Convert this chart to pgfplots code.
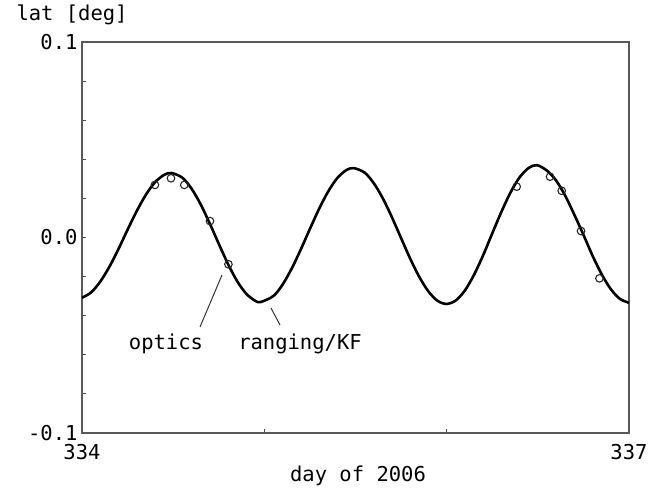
\documentclass[border=0pt]{standalone}
\usepackage{fontspec}
\setmainfont{DejaVu Sans Mono}
\usepackage{pgfplots}
\pgfplotsset{compat=1.18}
\usepackage{pgfplotstable}

% ranging/KF solution
\pgfplotstableread{
t lat
334.00 -0.0308
334.05 -0.0281
334.10 -0.0226
334.15 -0.0150
334.20 -0.0059
334.25 0.0040
334.30 0.0135
334.35 0.0218
334.40 0.0282
334.45 0.0320
334.49 0.0330
334.55 0.0306
334.60 0.0251
334.65 0.0171
334.70 0.0073
334.75 -0.0032
334.80 -0.0134
334.85 -0.0222
334.90 -0.0287
334.95 -0.0324
334.98 -0.0330
335.05 -0.0299
335.10 -0.0241
335.15 -0.0159
335.20 -0.0061
335.25 0.0044
335.30 0.0146
335.35 0.0235
335.40 0.0304
335.45 0.0345
335.49 0.0355
335.55 0.0332
335.60 0.0278
335.65 0.0200
335.70 0.0103
335.75 -0.0003
335.80 -0.0108
335.85 -0.0202
335.90 -0.0276
335.95 -0.0324
336.00 -0.0340
336.05 -0.0322
336.10 -0.0271
336.15 -0.0191
336.20 -0.0091
336.25 0.0021
336.30 0.0131
336.35 0.0230
336.40 0.0308
336.45 0.0356
336.495 0.0370
336.55 0.0342
336.60 0.0292
336.65 0.0214
336.70 0.0117
336.75 0.0014
336.80 -0.0093
336.85 -0.0188
336.90 -0.0264
336.95 -0.0314
337.00 -0.0334
}\kfdata

% optics points
\pgfplotstableread{
t lat
334.400 0.0269
334.488 0.0303
334.561 0.0269
334.702 0.0084
334.803 -0.0137
336.384 0.0260
336.567 0.0311
336.631 0.0239
336.737 0.0033
336.838 -0.0209
}\opticsdata

\begin{document}
\begin{tikzpicture}[font=\fontsize{20.5bp}{24bp}\selectfont, text=black]
\useasboundingbox (0,0) rectangle (663bp,488bp);
\begin{axis}[
    at={(82bp,55bp)}, anchor=south west,
    scale only axis,
    width=547bp, height=391bp,
    xmin=334, xmax=337,
    ymin=-0.1, ymax=0.1,
    xtick={334,335,336,337},
    xticklabels={334,,,337},
    ytick={-0.1,-0.08,-0.06,-0.04,-0.02,0,0.02,0.04,0.06,0.08,0.1},
    yticklabels={-0.1,,,,,0.0,,,,,0.1},
    xtick pos=bottom, ytick pos=left,
    tick align=inside,
    major tick length=4bp,
    tick style={draw=black!70, line width=1bp},
    axis line style={draw=black!65, line width=1.6bp},
    xticklabel style={anchor=base, yshift=-27bp},
    yticklabel style={xshift=-1bp},
    /pgf/number format/assume math mode=true,
    clip=false,
]
\addplot[black, line width=2.6bp, smooth] table[x=t, y=lat] {\kfdata};
\addplot[only marks, mark=o, mark size=3.8bp,
    mark options={draw=black!85, fill=white, line width=1.1bp}]
    table[x=t, y=lat] {\opticsdata};
\end{axis}
\node[anchor=base west] at (13bp,467bp) {lat [deg]};
\node[anchor=base] at (358bp,7bp) {day of 2006};
\draw[black!80, line width=1bp] (200bp,161bp) -- (222bp,213bp);
\draw[black!80, line width=1bp] (280bp,163bp) -- (271bp,180bp);
\node[anchor=base] at (166bp,138bp) {optics};
\node[anchor=base] at (300bp,138bp) {ranging/KF};
\end{tikzpicture}
\end{document}
